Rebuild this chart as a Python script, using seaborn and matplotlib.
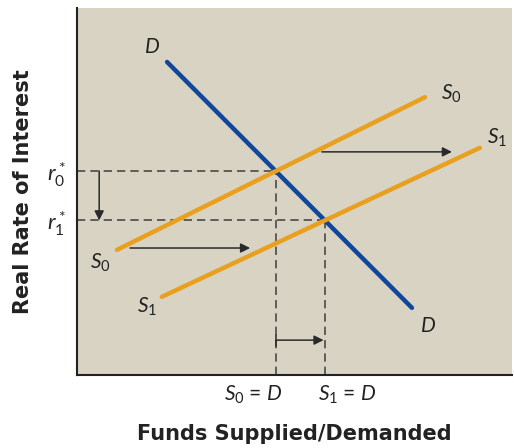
import numpy as np
import matplotlib
matplotlib.use("Agg")
import matplotlib.pyplot as plt
import matplotlib.transforms as mtransforms
import seaborn as sns
import pandas as pd

# Curve endpoints (chart units, 0-100)
demand_x = [20.7, 77.0]
demand_y = [85.3, 18.3]
supply0_x = [9.2, 80.0]
supply0_y = [34.1, 75.7]
supply1_x = [19.5, 92.6]
supply1_y = [21.3, 61.9]

y_tick_labels = ["$r_0^*$", "$r_1^*$"]
x_tick_labels = ["$S_0$ = $D$", "$S_1$ = $D$"]

def line_params(xs, ys):
    m = (ys[1] - ys[0]) / (xs[1] - xs[0])
    return m, ys[0] - m * xs[0]

def intersect(a, b):
    m1, c1 = a
    m2, c2 = b
    x = (c2 - c1) / (m1 - m2)
    return x, m1 * x + c1

dline = line_params(demand_x, demand_y)
s0line = line_params(supply0_x, supply0_y)
s1line = line_params(supply1_x, supply1_y)
e0x, e0y = intersect(dline, s0line)
e1x, e1y = intersect(dline, s1line)

df = pd.DataFrame({
    "x": demand_x + supply0_x + supply1_x,
    "y": demand_y + supply0_y + supply1_y,
    "curve": ["D"] * 2 + ["S0"] * 2 + ["S1"] * 2,
})

sns.set_theme(style="white")
plt.rcParams["font.family"] = ["Lato", "DejaVu Sans"]
plt.rcParams["mathtext.fontset"] = "custom"
plt.rcParams["mathtext.it"] = "Lato:italic"
plt.rcParams["mathtext.rm"] = "Lato"

fig = plt.figure(figsize=(5.14, 4.48), dpi=100)
ax = fig.add_axes([77 / 514, 73 / 448, 435 / 514, 367 / 448])
ax.set_facecolor("#d8d3c3")

blue = "#11479a"
orange = "#e8a01e"
sns.lineplot(data=df, x="x", y="y", hue="curve",
             palette={"D": blue, "S0": orange, "S1": orange},
             linewidth=3.2, legend=False, ax=ax, sort=False)

ax.set_xlim(0, 100)
ax.set_ylim(0, 100)

dash_kw = dict(color="#4a4a4a", lw=1.2, ls=(0, (5, 3)), zorder=1)
ax.plot([0, e0x], [e0y, e0y], **dash_kw)
ax.plot([0, e1x], [e1y, e1y], **dash_kw)
ax.plot([e0x, e0x], [0, e0y], **dash_kw)
ax.plot([e1x, e1x], [0, e1y], **dash_kw)

arrow_kw = dict(arrowstyle="-|>", color="#2a2a2a", lw=1.1, mutation_scale=14,
                shrinkA=0, shrinkB=0)
ax.annotate("", xy=(5.1, e1y), xytext=(5.1, e0y), arrowprops=arrow_kw)
ax.annotate("", xy=(39.8, 34.6), xytext=(12.2, 34.6), arrowprops=arrow_kw)
ax.annotate("", xy=(86.2, 60.8), xytext=(56.3, 60.8), arrowprops=arrow_kw)
ax.annotate("", xy=(e1x - 0.3, 9.5), xytext=(e0x, 9.5), arrowprops=arrow_kw)
ax.plot([e0x, e0x], [8.0, 11.0], color="#2a2a2a", lw=1.1)

lab_kw = dict(fontsize=15, color="#222222", ha="center", va="center")
ax.text(17.2, 89.4, "$D$", **lab_kw)
ax.text(80.6, 13.3, "$D$", **lab_kw)
ax.text(86.0, 76.6, "$S_0$", **lab_kw)
ax.text(5.3, 30.5, "$S_0$", **lab_kw)
ax.text(96.6, 64.5, "$S_1$", **lab_kw)
ax.text(16.0, 18.7, "$S_1$", **lab_kw)

ax.set_yticks([e0y, e1y])
ax.set_yticklabels(y_tick_labels, fontsize=16)
ax.set_xticks([e0x, e1x])
ax.set_xticklabels(["", ""])
ax.tick_params(axis="y", length=0, pad=8)
ax.tick_params(axis="x", direction="in", length=6, width=1.2, color="#444444", pad=6)

# x tick labels offset like the reference
trans = mtransforms.blended_transform_factory(ax.transData, ax.transAxes)
ax.text(e0x + 1.6, -0.055, x_tick_labels[0], transform=trans, ha="right",
        va="center", fontsize=15, color="#222222")
ax.text(e1x - 1.6, -0.055, x_tick_labels[1], transform=trans, ha="left",
        va="center", fontsize=15, color="#222222")

for side in ["top", "right"]:
    ax.spines[side].set_visible(False)
for side in ["left", "bottom"]:
    ax.spines[side].set_color("#222222")
    ax.spines[side].set_linewidth(1.5)

ax.set_xlabel("Funds Supplied/Demanded", fontsize=15, fontweight="bold",
              color="#222222", labelpad=29, family="DejaVu Sans")
ax.set_ylabel("Real Rate of Interest", fontsize=15, fontweight="bold",
              color="#222222", labelpad=10, family="DejaVu Sans")

fig.savefig("out.png", dpi=100)
